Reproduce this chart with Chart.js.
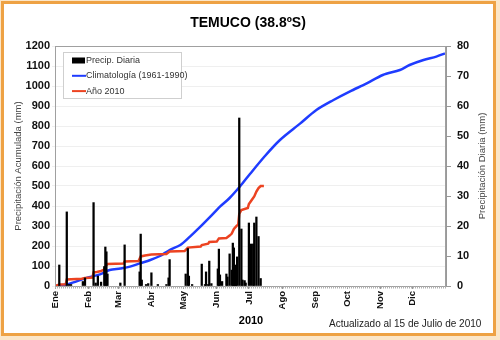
<!DOCTYPE html>
<html><head><meta charset="utf-8">
<script src="https://cdn.jsdelivr.net/npm/chart.js@4/dist/chart.umd.min.js"></script>
<style>html,body{margin:0;padding:0;background:#fff}canvas{display:block}</style>
</head><body>
<canvas id="c" width="500" height="340"></canvas>
<script>
// Month ticks (day of year) and labels
const monthStarts = [0,31,59,90,120,151,181,212,243,273,304,334];
const monthLabels = ['Ene','Feb','Mar','Abr','May','Jun','Jul','Ago','Sep','Oct','Nov','Dic'];

// Daily precipitation 2010 (day of year, mm)
const rainDays = [4,11,13,15,26,28,36,38,40,43,46,47,48,49,61,65,79,80,81,85,87,90,96,104,106,107,122,124,125,128,137,140,141,143,144,146,152,153,154,156,160,161,163,165,166,167,168,169,170,172,174,175,177,178,181,183,185,186,188,190,192];
const rainMm   = [7,24.7,0.5,0.5,1.5,2.7,27.8,1,3.3,1.3,6.5,13,11.4,4,1,13.7,4.7,17.3,2,0.5,0.8,4.4,0.5,0.5,2.7,8.8,4,12.5,3.3,0.5,7.3,0.5,4.7,0.5,8.3,0.8,5.7,12.3,3.7,1.5,4,3,10.7,5.3,14.3,12.7,4,7,9.7,56,19,2,1.8,1,21,14,14,21,23,16.5,2.5];

// Climatology 1961-1990 accumulated (day of year, mm)
const climDays = [0,11,31,42,51,61,70,79,89,98,107,117,126,135,145,154,163,173,182,196,210,229,244,260,275,291,306,322,331,344,356,364];
const climMm   = [0,8,43,58,80,88,97,113,130,150,180,205,247,293,347,397,440,500,560,650,730,813,880,930,972,1013,1055,1080,1105,1130,1147,1163];

// Year 2010 accumulated (day of year, mm)
const y2010Days = [0,4,10,11,25,28,35,36,39,43,46,48,49,64,65,78,80,84,90,104,107,121,124,136,137,143,144,151,153,160,163,165,167,170,171,172,174,180,181,183,186,188,190,192,195];
const y2010Mm   = [0,7,8,33,36,40,42,68,70,75,82,105,110,112,123,125,148,152,157,160,172,175,192,197,205,212,220,222,238,240,252,262,285,303,305,360,380,390,410,425,448,472,490,500,500];

const pts = (xs, ys) => xs.map((x,i)=>({x:x, y:ys[i]}));

const FONT = "'Liberation Sans', Arial, sans-serif";

const deco = {
  id:'deco',
  beforeDraw(chart){
    const ctx = chart.ctx;
    ctx.save();
    ctx.fillStyle = '#fbe6c8';
    ctx.fillRect(0,0,500,340);
    ctx.fillStyle = '#ffffff';
    ctx.fillRect(3,3,491,331);
    ctx.strokeStyle = '#eea244';
    ctx.lineWidth = 3;
    ctx.strokeRect(2.5,2.5,492,332);
    ctx.restore();
  },
  afterDraw(chart){
    const ctx = chart.ctx, a = chart.chartArea;
    ctx.save();
    // plot frame
    ctx.strokeStyle = '#a0a0a0'; ctx.lineWidth = 1;
    ctx.strokeRect(a.left+0.5, a.top+0.5, a.right-a.left-1, a.bottom-a.top);
    // dotted daily ticks under axis
    ctx.strokeStyle = '#b0b0b0'; ctx.setLineDash([1,1]); ctx.lineWidth = 2;
    ctx.beginPath(); ctx.moveTo(a.left, a.bottom+1.5); ctx.lineTo(a.right, a.bottom+1.5); ctx.stroke();
    ctx.setLineDash([]);
    // title
    ctx.fillStyle = '#000';
    ctx.font = 'bold 14px ' + FONT; ctx.textAlign = 'center'; ctx.textBaseline = 'alphabetic';
    ctx.fillText('TEMUCO (38.8ºS)', 248, 27);
    // 2010
    ctx.font = 'bold 11px ' + FONT;
    ctx.fillText('2010', 251, 324);
    // updated
    ctx.font = '10px ' + FONT; ctx.fillStyle = '#222'; ctx.textAlign = 'left';
    ctx.fillText('Actualizado al 15 de Julio de 2010', 329, 327);
    // axis titles
    ctx.fillStyle = '#444'; ctx.font = '9.5px ' + FONT; ctx.textAlign = 'center'; ctx.textBaseline = 'middle';
    ctx.save(); ctx.translate(18, 166); ctx.rotate(-Math.PI/2);
    ctx.fillText('Precipitación Acumulada (mm)', 0, 0); ctx.restore();
    ctx.save(); ctx.translate(482, 166); ctx.rotate(-Math.PI/2);
    ctx.fillText('Precipitación Diaria (mm)', 0, 0); ctx.restore();
    // legend
    ctx.fillStyle = '#fff'; ctx.fillRect(63,52,119,47);
    ctx.strokeStyle = '#cfcfcf'; ctx.lineWidth = 1; ctx.strokeRect(63.5,52.5,118,46);
    const items = [
      {label: chart.data.datasets[0].label, kind:'bar', color:'#000'},
      {label: chart.data.datasets[1].label, kind:'line', color:'#1f3cff'},
      {label: chart.data.datasets[2].label, kind:'line', color:'#ec4321'}
    ];
    ctx.font = '9px ' + FONT; ctx.textAlign = 'left'; ctx.textBaseline = 'middle';
    items.forEach((it,i)=>{
      const y = 60.5 + i*15.3;
      if (it.kind === 'bar') { ctx.fillStyle = it.color; ctx.fillRect(72, y-3, 13, 6); }
      else { ctx.strokeStyle = it.color; ctx.lineWidth = 2; ctx.beginPath(); ctx.moveTo(72,y); ctx.lineTo(86,y); ctx.stroke(); }
      ctx.fillStyle = '#333'; ctx.fillText(it.label, 86, y);
    });
    ctx.restore();
  }
};

new Chart(document.getElementById('c'), {
  type: 'bar',
  data: {
    datasets: [
      { type:'bar', label:'Precip. Diaria', data: pts(rainDays, rainMm), yAxisID:'y2', xAxisID:'x',
        backgroundColor:'#000', borderWidth:0, barThickness:1.6, order:0 },
      { type:'line', label:'Climatología (1961-1990)', data: pts(climDays, climMm), yAxisID:'y', xAxisID:'x',
        borderColor:'#1f3cff', borderWidth:2.5, pointRadius:0, tension:0.3, fill:false, order:2 },
      { type:'line', label:'Año 2010', data: pts(y2010Days, y2010Mm), yAxisID:'y', xAxisID:'x',
        borderColor:'#ec4321', borderWidth:2.5, pointRadius:0, tension:0, fill:false, order:1 }
    ]
  },
  options: {
    responsive:false, animation:false, devicePixelRatio:1,
    layout:{ padding:{ top:46, left:0, right:0, bottom:0 } },
    plugins:{ legend:{display:false}, title:{display:false}, tooltip:{enabled:false} },
    scales:{
      x:{ type:'linear', position:'bottom', min:0, max:365, offset:false,
        grid:{ drawOnChartArea:false, offset:false, tickLength:3, color:'#999' },
        border:{ color:'#999' },
        afterBuildTicks: s => { s.ticks = monthStarts.map(v=>({value:v})); },
        afterFit: s => { s.height = 54; },
        ticks:{ autoSkip:false, minRotation:90, maxRotation:90, padding:2, color:'#111',
          font:{ family:FONT, size:9.5, weight:'bold' },
          callback: v => monthLabels[monthStarts.indexOf(v)] }
      },
      y:{ position:'left', min:0, max:1200,
        grid:{ color:'#efefef', tickLength:3, drawTicks:true },
        border:{ color:'#999' },
        afterFit: s => { s.width = 55; },
        ticks:{ stepSize:100, padding:2, color:'#111', font:{ family:FONT, size:11, weight:'bold' },
          callback: v => String(v) }
      },
      y2:{ position:'right', min:0, max:80,
        grid:{ drawOnChartArea:false, tickLength:5, color:'#999' },
        border:{ color:'#999' },
        afterFit: s => { s.width = 54; },
        ticks:{ stepSize:10, padding:6, color:'#111', font:{ family:FONT, size:11, weight:'bold' },
          callback: v => String(v) }
      }
    }
  },
  plugins:[deco]
});
</script>
</body></html>
